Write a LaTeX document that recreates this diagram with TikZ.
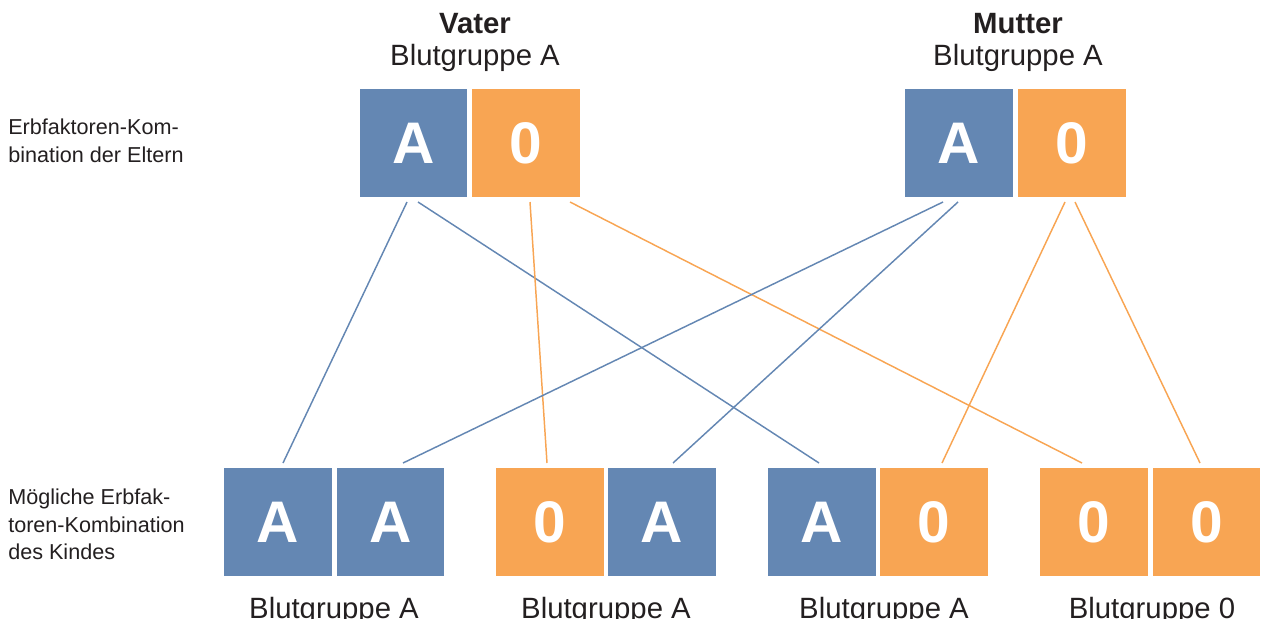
\documentclass[tikz,border=0pt]{standalone}
\usepackage{fontspec}
\setmainfont{Liberation Sans}
\usetikzlibrary{calc}
\definecolor{blueA}{HTML}{6487B3}
\definecolor{orangeO}{HTML}{F8A553}
\definecolor{txt}{HTML}{231F20}
\begin{document}
\begin{tikzpicture}[x=0.75pt,y=-0.75pt,
  gbox/.style={minimum width=80.6pt,minimum height=80.6pt,inner sep=0pt,text=white,
    font=\fontsize{44}{44}\selectfont\bfseries},
  abox/.style={gbox,fill=blueA},
  obox/.style={gbox,fill=orangeO},
  bline/.style={draw=blueA,line width=1.1pt},
  oline/.style={draw=orangeO,line width=1.1pt},
  head/.style={text=txt,font=\fontsize{22}{22}\selectfont,anchor=base,inner sep=0pt},
  side/.style={text=txt,font=\fontsize{16.2}{20.5}\selectfont,anchor=north west,align=left,inner sep=0pt}]
\useasboundingbox (0,0) rectangle (1267,618);
% parents
\node[abox] (vA) at (413.5,143) {A};
\node[obox] (v0) at (526,143) {0};
\node[abox] (mA) at (959,143) {A};
\node[obox] (m0) at (1072,143) {0};
% children
\node[abox] (c1a) at (278,522) {A};
\node[abox] (c1b) at (390.5,522) {A};
\node[obox] (c2a) at (550,522) {0};
\node[abox] (c2b) at (662,522) {A};
\node[abox] (c3a) at (822,522) {A};
\node[obox] (c3b) at (934,522) {0};
\node[obox] (c4a) at (1094,522) {0};
\node[obox] (c4b) at (1206.5,522) {0};
% headings
\node[head] (vt) at (475,33) {\bfseries Vater};
\node[head] (vb) at (475,65) {Blutgruppe A};
\node[head] (mt) at (1018,33) {\bfseries Mutter};
\node[head] (mb) at (1018,65) {Blutgruppe A};
\node[head] (b1) at (334,618) {Blutgruppe A};
\node[head] (b2) at (606,618) {Blutgruppe A};
\node[head] (b3) at (884,618) {Blutgruppe A};
\node[head] (b4) at (1152,618) {Blutgruppe 0};
% side labels
\node[side] (l1) at (8,119) {Erbfaktoren-Kom-\\bination der Eltern};
\node[side] (l2) at (8,489) {Mögliche Erbfak-\\toren-Kombination\\des Kindes};
% connectors
\draw[bline] ($(vA.south)+(-6.5,5)$) -- ($(c1a.north)+(5,-5)$);
\draw[bline] ($(vA.south)+(4.5,5)$) -- ($(c3a.north)+(-3,-5)$);
\draw[oline] ($(v0.south)+(4,5)$) -- ($(c2a.north)+(-3,-5)$);
\draw[oline] ($(v0.south)+(44,5)$) -- ($(c4a.north)+(-12,-5)$);
\draw[bline] ($(mA.south)+(-16,5)$) -- ($(c1b.north)+(12.5,-5)$);
\draw[bline] ($(mA.south)+(-1,5)$) -- ($(c2b.north)+(11,-5)$);
\draw[oline] ($(m0.south)+(-7,5)$) -- ($(c3b.north)+(8,-5)$);
\draw[oline] ($(m0.south)+(3,5)$) -- ($(c4b.north)+(-6.5,-5)$);
\end{tikzpicture}
\end{document}
